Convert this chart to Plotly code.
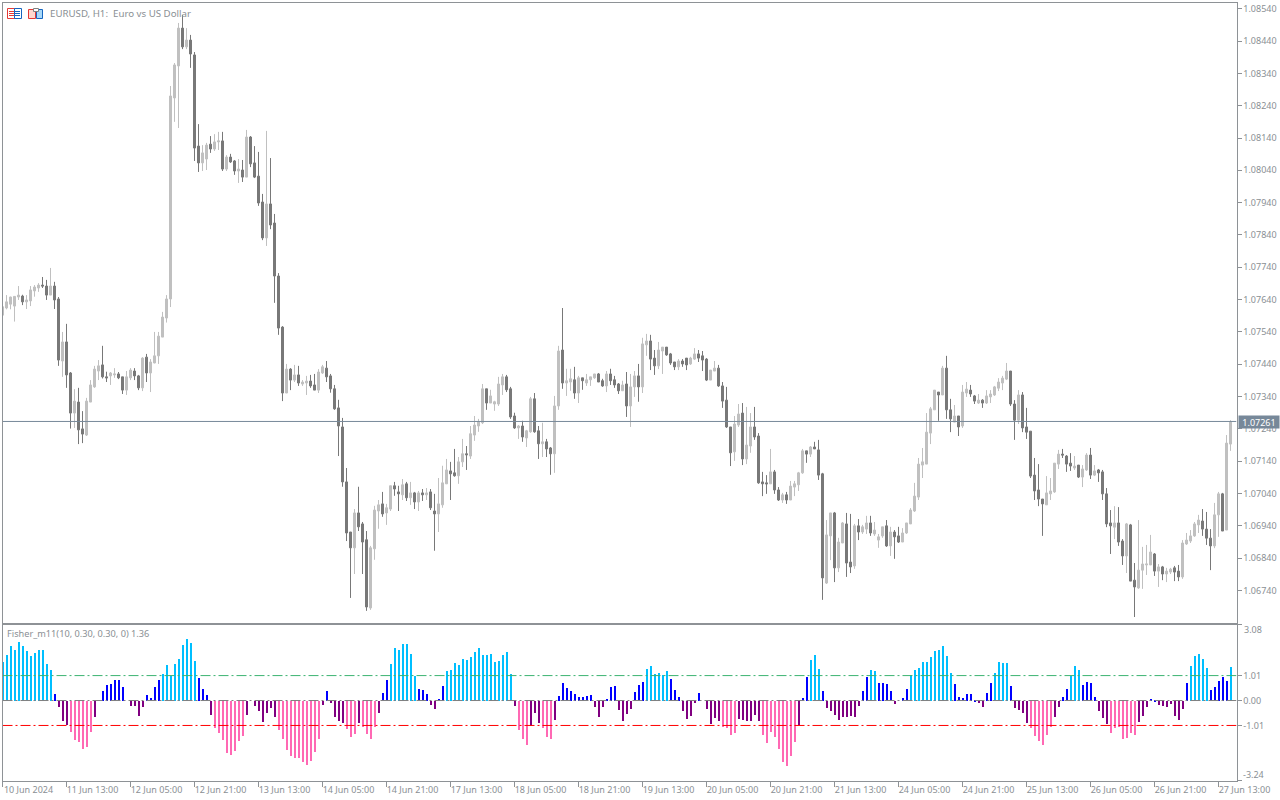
import plotly.graph_objects as go

# Prices in points (1 point = 0.00001)
open_pts = [
107592,107614,107626,107620,107648,107651,107633,107636,107667,107676,
107685,107682,107654,107682,107642,107450,107509,107413,107289,107323,
107240,107221,107323,107370,107419,107438,107401,107404,107407,107410,
107401,107360,107398,107419,107404,107367,107462,107413,107444,107466,
107524,107583,107642,108264,108363,108480,108422,108443,108397,108115,
108063,108075,108121,108106,108128,108131,108044,108081,108069,108038,
108041,108019,108143,108063,108022,107942,107831,107936,107877,107713,
107555,107351,107425,107391,107407,107379,107382,107388,107376,107360,
107413,107428,107404,107364,107305,107246,107076,106921,106872,106980,
106946,106897,106686,106869,106986,107008,106980,106992,107064,107045,
107036,107070,107027,107042,107014,107042,107036,107045,106986,106977,
107005,107070,107110,107104,107095,107138,107163,107156,107221,107249,
107259,107364,107320,107317,107317,107376,107401,107364,107280,107243,
107249,107212,107231,107333,107234,107194,107200,107181,107163,107311,
107484,107382,107385,107392,107351,107398,107382,107392,107398,107410,
107389,107373,107410,107392,107379,107358,107379,107311,107370,107404,
107370,107500,107512,107459,107435,107481,107493,107472,107447,107432,
107450,107459,107441,107456,107472,107466,107456,107391,107419,107428,
107373,107329,107246,107169,107252,107289,107147,107187,107246,107218,
107076,107073,107070,107107,107051,107020,107036,107020,107060,107067,
107104,107172,107162,107184,107175,107101,106763,106909,106980,106810,
106887,106946,106828,106816,106940,106921,106930,106949,106915,106896,
106909,106940,106878,106921,106909,106890,106918,106946,106986,107029,
107128,107131,107227,107299,107354,107345,107428,107299,107261,107280,
107249,107351,107360,107342,107320,107329,107320,107339,107345,107366,
107382,107394,107419,107317,107267,107345,107246,107233,107097,107051,
107023,107005,107039,107045,107131,107162,107156,107134,107119,107128,
107091,107113,107159,107097,107113,107107,107039,106949,106936,106949,
106893,106847,106943,106772,106748,106803,106819,106819,106853,106800,
106813,106791,106797,106810,106800,106782,106884,106893,106909,106943,
106955,106930,106902,106878,106974,107039,106927,107193]

close_pts = [
107618,107633,107648,107650,107654,107633,107639,107670,107679,107685,
107682,107654,107682,107639,107453,107509,107407,107289,107326,107237,
107224,107326,107376,107425,107435,107401,107398,107413,107410,107398,
107360,107401,107422,107404,107367,107459,107413,107447,107466,107527,
107586,107642,108270,108366,108480,108422,108443,108400,108109,108063,
108094,108118,108106,108128,108131,108044,108081,108066,108038,108044,
108019,108143,108060,108019,107939,107831,107936,107871,107713,107552,
107351,107425,107391,107407,107382,107385,107388,107373,107360,107416,
107432,107401,107364,107302,107249,107076,106918,106872,106980,106937,
106890,106689,106872,106989,107005,106977,106996,107064,107054,107039,
107067,107027,107042,107014,107042,107036,107042,106996,106977,107008,
107073,107113,107101,107095,107138,107163,107160,107225,107252,107262,
107364,107320,107342,107324,107379,107401,107361,107277,107243,107249,
107215,107234,107333,107231,107194,107200,107178,107163,107311,107481,
107382,107389,107395,107351,107398,107389,107392,107401,107410,107385,
107373,107410,107389,107376,107358,107376,107311,107370,107404,107370,
107503,107512,107456,107435,107484,107493,107469,107444,107432,107450,
107441,107438,107459,107472,107459,107453,107391,107422,107428,107373,
107326,107246,107166,107255,107286,107147,107190,107246,107215,107073,
107070,107070,107107,107051,107020,107036,107020,107063,107070,107104,
107172,107162,107184,107178,107097,106779,106912,106980,106810,106890,
106949,106825,106813,106940,106921,106937,106949,106918,106927,106906,
106937,106878,106921,106906,106890,106918,106949,106989,107032,107131,
107138,107230,107302,107360,107345,107428,107299,107271,107280,107246,
107354,107363,107348,107326,107329,107320,107342,107348,107370,107385,
107397,107419,107317,107267,107345,107243,107230,107094,107048,107023,
107008,107042,107048,107134,107162,107159,107131,107125,107125,107091,
107116,107159,107097,107110,107104,107039,106946,106940,106949,106890,
106847,106946,106769,106751,106803,106822,106822,106859,106800,106813,
106791,106800,106806,106797,106782,106887,106896,106909,106946,106958,
106930,106902,106878,106974,107039,106924,107196,107261]

high_pts = [
107623,107654,107649,107651,107682,107655,107654,107682,107685,107691,
107710,107701,107738,107695,107648,107540,107565,107416,107363,107367,
107295,107336,107391,107435,107453,107497,107417,107416,107428,107416,
107401,107419,107428,107428,107407,107462,107472,107456,107540,107540,
107602,107654,108301,108372,108496,108521,108480,108459,108406,108183,
108118,108125,108146,108152,108159,108159,108087,108091,108072,108075,
108072,108165,108146,108115,108097,107967,108162,108078,107905,107722,
107558,107441,107428,107438,107435,107391,107404,107407,107410,107425,
107438,107450,107410,107376,107330,107274,107119,106921,106992,107061,
106952,106924,106878,107002,107020,107045,107008,107064,107076,107064,
107085,107076,107076,107045,107048,107054,107057,107054,107039,107088,
107126,107147,107138,107178,107153,107209,107187,107249,107280,107271,
107379,107364,107361,107327,107401,107410,107407,107370,107290,107252,
107265,107237,107339,107351,107249,107259,107209,107184,107342,107497,
107614,107426,107426,107432,107404,107398,107410,107401,107410,107413,
107395,107419,107426,107404,107382,107389,107416,107410,107419,107441,
107522,107534,107531,107484,107509,107493,107493,107475,107447,107456,
107456,107459,107463,107490,107484,107481,107459,107422,107450,107438,
107385,107370,107246,107280,107317,107320,107308,107289,107308,107227,
107107,107097,107178,107113,107060,107042,107045,107079,107079,107107,
107178,107172,107187,107200,107206,107104,106958,106980,106983,106903,
106952,106980,106977,106946,106961,106943,106971,106971,106952,106915,
106937,106958,106937,106927,106937,106933,106949,106995,107073,107150,
107181,107289,107308,107360,107354,107435,107466,107333,107314,107280,
107376,107385,107376,107345,107348,107332,107360,107360,107373,107397,
107404,107444,107419,107329,107360,107354,107305,107233,107150,107131,
107023,107094,107088,107134,107175,107178,107159,107165,107156,107128,
107128,107165,107181,107128,107116,107113,107057,106989,107001,106998,
106899,106949,106946,106825,106958,106875,106881,106912,106856,106822,
106816,106810,106810,106816,106819,106896,106918,106927,106952,106974,
106992,106983,106930,107011,107045,107042,107221,107267]

low_pts = [
107592,107610,107610,107572,107639,107623,107611,107620,107649,107664,
107676,107639,107654,107611,107435,107401,107367,107241,107243,107193,
107196,107218,107323,107367,107391,107396,107385,107376,107398,107394,
107348,107345,107391,107391,107360,107357,107385,107354,107443,107441,
107524,107569,107617,108190,108171,108415,108415,108357,108069,108035,
108038,108041,108094,108100,108103,108038,108038,108063,108026,108001,
108004,108019,108050,108016,107930,107824,107806,107858,107630,107531,
107326,107351,107360,107385,107373,107373,107345,107367,107360,107351,
107410,107385,107352,107299,107156,107061,106893,106717,106791,106924,
106791,106677,106680,106835,106931,106968,106943,106986,107033,106986,
107020,107017,107005,106992,106986,107017,107020,106989,106863,106921,
106996,107070,107020,107092,107070,107122,107113,107147,107203,107231,
107255,107299,107320,107296,107311,107345,107354,107271,107240,107209,
107200,107184,107228,107228,107147,107153,107153,107098,107104,107299,
107364,107342,107358,107333,107320,107361,107373,107373,107395,107385,
107370,107354,107376,107367,107348,107358,107277,107246,107339,107324,
107351,107466,107422,107407,107425,107410,107466,107438,107422,107422,
107432,107422,107438,107453,107447,107419,107388,107391,107419,107370,
107305,107243,107125,107141,107246,107128,107131,107166,107206,107070,
107032,107039,107070,107039,107017,107011,107008,107020,107032,107048,
107101,107135,107153,107178,107082,106711,106760,106834,106766,106797,
106887,106782,106794,106807,106896,106915,106915,106909,106909,106872,
106903,106875,106847,106838,106887,106890,106915,106946,106983,107020,
107088,107131,107193,107299,107265,107345,107271,107230,107261,107218,
107243,107339,107339,107317,107317,107305,107317,107320,107342,107357,
107360,107391,107311,107206,107255,107230,107209,107088,107020,107001,
106909,107005,107020,107042,107116,107150,107107,107110,107113,107088,
107060,107110,107085,107094,107076,107020,106936,106853,106899,106878,
106819,106794,106769,106658,106745,106745,106788,106819,106785,106751,
106772,106766,106791,106769,106769,106776,106881,106887,106906,106918,
106909,106881,106803,106871,106906,106924,106927,107172]

fisher = [
1.60,1.87,2.24,2.07,2.40,2.24,2.03,1.83,1.95,2.07,
2.07,1.51,1.27,0.30,-0.23,-0.79,-0.96,-1.24,-1.56,-1.64,
-1.93,-1.85,-1.24,-0.63,0.00,0.42,0.66,0.70,0.86,0.86,
0.58,0.00,-0.19,-0.19,-0.59,-0.23,0.26,0.13,0.58,0.86,
1.10,1.47,1.02,1.51,1.71,2.28,2.52,2.36,1.63,0.94,
0.50,0.26,-0.55,-1.08,-1.28,-1.56,-2.09,-2.17,-2.01,-1.60,
-1.40,-0.55,0.00,-0.19,-0.39,-0.84,-0.47,-0.27,-0.63,-1.16,
-1.52,-1.97,-2.21,-2.29,-2.29,-2.49,-2.61,-2.41,-2.05,-1.52,
-0.15,0.42,-0.07,-0.63,-0.79,-0.88,-1.12,-1.44,-1.32,-0.88,
-1.04,-1.32,-1.52,-1.04,-0.47,0.34,0.86,1.51,2.15,2.07,
2.32,2.32,1.91,1.02,0.50,0.46,0.30,-0.15,-0.31,0.09,
0.62,1.23,1.27,1.55,1.47,1.71,1.67,1.79,1.99,2.15,
1.87,1.87,1.91,1.59,1.63,1.87,1.99,1.10,-0.19,-1.16,
-1.52,-1.80,-1.00,-0.47,-0.88,-1.08,-1.44,-1.52,-0.75,0.22,
0.74,0.54,0.42,0.30,0.18,0.18,0.22,0.26,-0.23,-0.63,
-0.23,0.09,0.58,0.62,-0.35,-0.79,-0.51,-0.31,0.38,0.66,
0.78,1.31,1.43,1.10,1.14,1.06,1.23,0.90,0.46,0.18,
-0.39,-0.71,-0.59,-0.07,0.34,0.00,-0.31,-0.92,-0.67,-0.79,
-1.04,-1.08,-1.36,-1.28,-0.71,-0.75,-0.79,-0.79,-0.55,-0.79,
-1.36,-1.72,-1.24,-1.44,-1.93,-2.49,-2.65,-2.21,-1.68,-0.96,
0.13,0.98,1.67,1.87,1.31,0.42,-0.27,-0.39,-0.55,-0.75,
-0.63,-0.63,-0.59,-0.63,-0.19,0.42,0.98,1.27,1.23,0.74,
0.74,0.70,0.42,-0.11,0.00,0.13,0.50,1.06,1.27,1.35,
1.59,1.59,1.79,2.03,2.07,2.24,1.83,1.14,0.70,0.18,
0.13,0.30,0.30,0.05,-0.07,-0.23,0.34,0.74,1.14,1.59,
1.55,1.55,0.62,-0.27,-0.35,-0.47,-0.88,-1.08,-1.40,-1.60,
-1.80,-1.36,-1.04,-0.63,-0.23,0.18,0.50,1.02,1.43,1.27,
0.66,0.78,0.74,0.18,-0.39,-0.67,-0.92,-1.28,-1.08,-1.04,
-1.52,-1.48,-1.28,-1.36,-0.84,-0.59,-0.23,0.09,0.05,-0.15,
-0.19,-0.23,-0.11,-0.59,-0.75,-0.31,0.74,1.43,1.83,1.91,
1.71,1.35,0.46,0.58,0.82,0.98,0.82,1.39]

time_labels = ["10 Jun 2024","11 Jun 13:00","12 Jun 05:00","12 Jun 21:00","13 Jun 13:00",
"14 Jun 05:00","14 Jun 21:00","17 Jun 13:00","18 Jun 05:00","18 Jun 21:00",
"19 Jun 13:00","20 Jun 05:00","20 Jun 21:00","21 Jun 13:00","24 Jun 05:00",
"24 Jun 21:00","25 Jun 13:00","26 Jun 05:00","26 Jun 21:00","27 Jun 13:00"]
price_ticks = [1.0854,1.0844,1.0834,1.0824,1.0814,1.0804,1.0794,1.0784,1.0774,1.0764,
1.0754,1.0744,1.0734,1.0724,1.0714,1.0704,1.0694,1.0684,1.0674]
last_price = 1.07261
last_price_line = 1.07263
fisher_levels = [1.01, 0.0, -1.01]
level_colors = ["#3CB371", "#808080", "#FF0000"]
fisher_label_vals = [3.08, 1.01, 0.0, -1.01, -3.24]
W, H = 1280, 800
TXT = "#8a8f94"
FRAME = "#8e9296"
FONT = "Noto Sans"

idx = list(range(len(open_pts)))
px = lambda x: x / W
py = lambda y: 1 - y / H

fig = go.Figure()
fig.add_trace(go.Candlestick(
    x=idx,
    open=[v / 1e5 for v in open_pts], high=[v / 1e5 for v in high_pts],
    low=[v / 1e5 for v in low_pts], close=[v / 1e5 for v in close_pts],
    increasing=dict(line=dict(color="#C0C0C0", width=1), fillcolor="#C0C0C0"),
    decreasing=dict(line=dict(color="#787878", width=1), fillcolor="#787878"),
    whiskerwidth=0, showlegend=False, hoverinfo="skip", xaxis="x", yaxis="y"))


def hist_color(v):
    if v > 1.0:
        return "#00BFFF"
    if v >= 0:
        return "#0000FF"
    if v >= -1.0:
        return "#800080"
    return "#FF69B4"


fig.add_trace(go.Bar(x=idx, y=fisher, width=0.5, offset=-0.375,
                     marker=dict(color=[hist_color(v) for v in fisher], line=dict(width=0)),
                     showlegend=False, hoverinfo="skip", xaxis="x2", yaxis="y2"))
for lv, col in zip(fisher_levels, level_colors):
    fig.add_trace(go.Scatter(x=[0, 308.5], y=[lv, lv], mode="lines",
                             line=dict(color=col, width=1, dash="10px,3px,2px,3px"),
                             showlegend=False, hoverinfo="skip", xaxis="x2", yaxis="y2"))
fig.add_trace(go.Scatter(x=[0, 308.5], y=[last_price_line, last_price_line], mode="lines",
                         line=dict(color="#778899", width=1),
                         showlegend=False, hoverinfo="skip", xaxis="x", yaxis="y"))

axis_font = dict(family=FONT, size=9, color=TXT)
xdom = [px(2.5), px(1236.5)]
shapes = []


def rect(x0, y0, x1, y1, line, fill="rgba(0,0,0,0)"):
    shapes.append(dict(type="rect", xref="paper", yref="paper", x0=px(x0), x1=px(x1),
                       y0=py(y0), y1=py(y1), line=dict(color=line, width=1), fillcolor=fill))


def hline(x0, x1, y, col):
    shapes.append(dict(type="line", xref="paper", yref="paper", x0=px(x0), x1=px(x1),
                       y0=py(y), y1=py(y), line=dict(color=col, width=1)))


# toolbar icons
rect(7.5, 8.5, 14.5, 18.5, "#E53935")
rect(14.5, 8.5, 21.5, 18.5, "#1565C0")
for yy in (11.5, 13.5, 15.5):
    hline(9, 14, yy, "#E53935")
    hline(15, 20, yy, "#1565C0")
rect(28.5, 9.5, 35.5, 18.5, "#E53935", "#FFD8D0")
rect(36.5, 9.5, 42.5, 18.5, "#1565C0", "#A8D8F8")
rect(33.5, 8.5, 38.5, 11.5, "#808080", "#FFFFFF")

annotations = [
    dict(text="EURUSD, H1:  Euro vs US Dollar", xref="paper", yref="paper", x=px(47.5), y=py(13.5),
         xanchor="left", yanchor="middle", showarrow=False, font=dict(family=FONT, size=9.7, color=TXT)),
    dict(text="Fisher_m11(10, 0.30, 0.30, 0) 1.36", xref="paper", yref="paper", x=px(4.5), y=py(633.5),
         xanchor="left", yanchor="middle", showarrow=False, font=dict(family=FONT, size=9.2, color=TXT)),
    dict(text="3.08", xref="paper", yref="paper", x=px(1242), y=py(629.5), xanchor="left",
         yanchor="middle", showarrow=False, font=axis_font),
    dict(text="-3.24", xref="paper", yref="paper", x=px(1241), y=py(774.5), xanchor="left",
         yanchor="middle", showarrow=False, font=axis_font),
    dict(text=f"{last_price:.5f}", xref="paper", yref="y", x=px(1238), y=last_price, xanchor="left",
         yanchor="middle", showarrow=False, bgcolor="#778899", borderpad=0, width=40, height=12,
         font=dict(family=FONT, size=9, color="#FFFFFF")),
]

fig.update_layout(
    width=W, height=H, margin=dict(l=0, r=0, t=0, b=0, autoexpand=False), paper_bgcolor="#FFFFFF",
    plot_bgcolor="#FFFFFF",
    boxgap=0.5, boxgroupgap=0, bargap=0, showlegend=False, hovermode=False,
    shapes=shapes, annotations=annotations,
    xaxis=dict(domain=xdom, range=[0, 308.5], anchor="y", automargin=False, showgrid=False, zeroline=False,
               showticklabels=False, ticks="", showline=True, mirror=True, linecolor=FRAME, linewidth=1,
               rangeslider=dict(visible=False)),
    yaxis=dict(domain=[py(622.5), py(2.5)], range=[(108567 - 622.5 * 3.094) / 1e5, (108567 - 2.5 * 3.094) / 1e5],
               side="right", anchor="x", automargin=False, showgrid=False, zeroline=False, tickmode="array",
               tickvals=price_ticks, ticktext=[f"{v:.5f}" for v in price_ticks], ticks="outside", ticklen=4,
               tickcolor=FRAME, tickfont=axis_font, showline=True, mirror=True, linecolor=FRAME, linewidth=1),
    xaxis2=dict(domain=xdom, range=[0, 308.5], anchor="y2", automargin=False, showgrid=False, zeroline=False,
                tickmode="array", tickvals=idx[::16], ticktext=time_labels, ticks="outside", ticklen=5,
                tickcolor=FRAME, tickfont=axis_font, ticklabelshift=26, ticklabelstandoff=-4, showline=True,
                mirror=True, linecolor=FRAME, linewidth=1),
    yaxis2=dict(domain=[py(780.5), py(624.5)], range=[-3.24, 3.08], side="right", anchor="x2", automargin=False,
                showgrid=False, zeroline=False, tickmode="array", tickvals=fisher_label_vals,
                ticktext=["", "1.01", "0.00", "-1.01", ""], ticks="outside", ticklen=4, tickcolor=FRAME,
                tickfont=axis_font, showline=True, mirror=True, linecolor=FRAME, linewidth=1),
)

fig.write_html("out.html", config=dict(displayModeBar=False),
               post_script="document.body.style.margin='0';document.body.style.overflow='hidden';")
